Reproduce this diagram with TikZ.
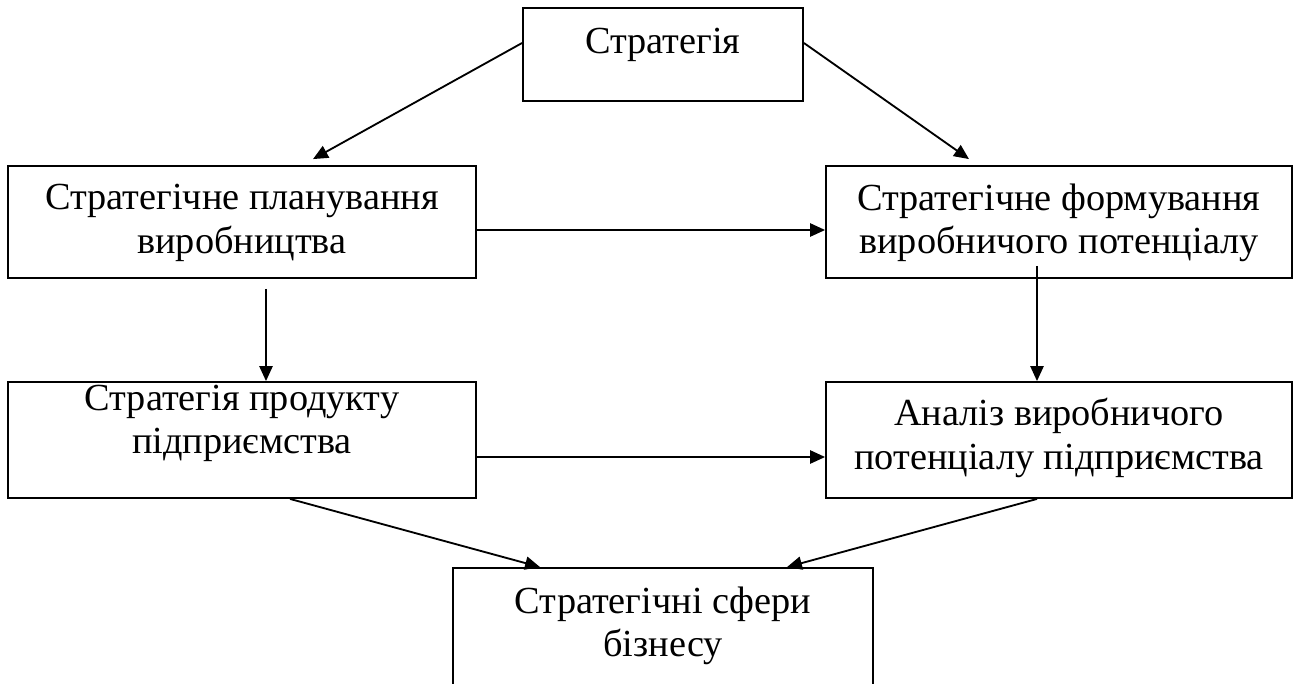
\documentclass[tikz,border=0pt]{standalone}
\usepackage{fontspec}
\setmainfont{Liberation Serif}
\usetikzlibrary{arrows.meta,calc}
\begin{document}
\begin{tikzpicture}[x=0.02cm,y=-0.02cm,
  box/.style={draw=black,line width=1.05pt,rectangle,inner sep=0pt},
  txt/.style={align=center,inner sep=0pt,font=\fontsize{21.8pt}{24.6pt}\selectfont},
  conn/.style={line width=1.05pt,-{Triangle[length=8.5pt,width=7.5pt]}}]
\useasboundingbox (0,0) rectangle (1294,683);
\fill[white] (0,0) rectangle (1294,683);
\clip (0,0) rectangle (1294,683);
% boxes
\node[box,minimum width=280*0.02cm,minimum height=93*0.02cm] (top) at (663,54.5) {};
\node[box,minimum width=468*0.02cm,minimum height=112*0.02cm] (pl) at (242,222) {};
\node[box,minimum width=466*0.02cm,minimum height=112*0.02cm] (fo) at (1059,222) {};
\node[box,minimum width=468*0.02cm,minimum height=116*0.02cm] (pr) at (242,440) {};
\node[box,minimum width=466*0.02cm,minimum height=116*0.02cm] (an) at (1059,440) {};
\node[box,minimum width=420*0.02cm,minimum height=132*0.02cm] (bot) at (663,634) {};
% texts
\node[txt,anchor=base] (ttop) at (663,53) {Стратегія};
\node[txt] (tpl) at (242,223) {Стратегічне планування\\виробництва};
\node[txt] (tfo) at (1059,223) {Стратегічне формування\\виробничого потенціалу};
\node[txt] (tpr) at (242,423) {Стратегія продукту\\підприємства};
\node[txt] (tan) at (1059,438) {Аналіз виробничого\\потенціалу підприємства};
\node[txt] (tbot) at (663,626) {Стратегічні сфери\\бізнесу};
% connectors
\draw[conn] ($(top.west)+(0,-11.5)$) -- ($(pl.north)+(71,-6)$);
\draw[conn] ($(top.east)+(0,-11.5)$) -- ($(fo.north)+(-90,-6)$);
\draw[conn] ($(pl.east)+(0,8)$) -- ($(fo.west)+(0,8)$);
\draw[conn] ($(pl.south)+(24,10)$) -- ($(pr.north)+(24,0)$);
\draw[conn] ($(fo.south)+(-22,-13)$) -- ($(an.north)+(-22,0)$);
\draw[conn] ($(pr.east)+(0,17)$) -- ($(an.west)+(0,17)$);
\draw[conn] ($(pr.south)+(48,0)$) -- ($(bot.north)+(-123,0)$);
\draw[conn] ($(an.south)+(-22,0)$) -- ($(bot.north)+(124,0)$);
\end{tikzpicture}
\end{document}
